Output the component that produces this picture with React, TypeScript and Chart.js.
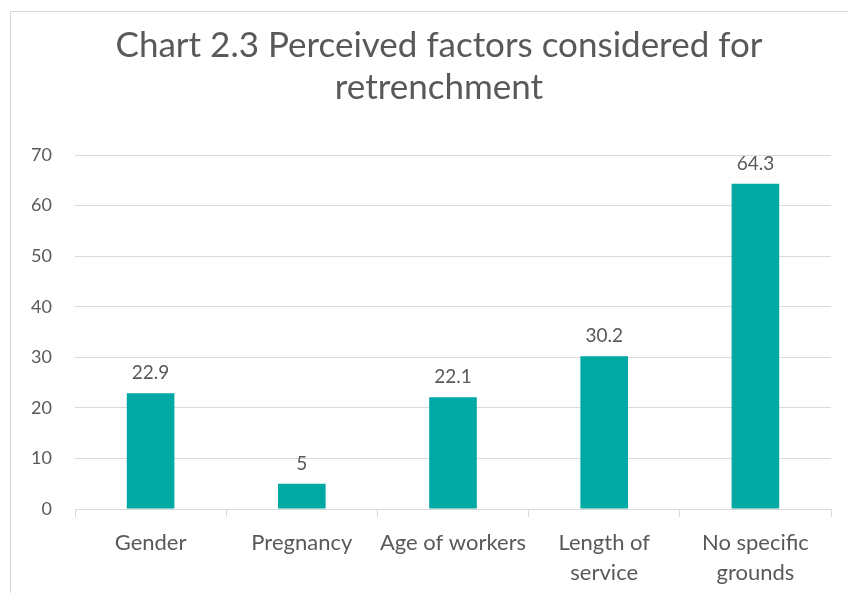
import React, { useEffect, useRef } from "react";
import { Chart, registerables } from "chart.js";

Chart.register(...registerables);

const categories: (string | string[])[] = [
  "Gender",
  "Pregnancy",
  "Age of workers",
  ["Length of", "service"],
  ["No specific", "grounds"],
];
const values: number[] = [22.9, 5, 22.1, 30.2, 64.3];
const valueLabels: string[] = ["22.9", "5", "22.1", "30.2", "64.3"];
const titleLines: string[] = ["Chart 2.3 Perceived factors considered for", "retrenchment"];

const FONT = "Lato, 'Open Sans', sans-serif";
const TEXT = "#595959";
const GRID = "#d9d9d9";
const BAR = "#00A9A4";

export default function App() {
  const ref = useRef<HTMLCanvasElement | null>(null);

  useEffect(() => {
    if (!ref.current) return;
    const decor = {
      id: "decor",
      beforeDraw(chart: any) {
        const ctx = chart.ctx;
        ctx.save();
        ctx.fillStyle = "#ffffff";
        ctx.fillRect(0, 0, chart.width, chart.height);
        ctx.strokeStyle = GRID;
        ctx.lineWidth = 1;
        ctx.strokeRect(10.5, 11.5, chart.width + 20, chart.height + 20);
        ctx.fillStyle = TEXT;
        ctx.textAlign = "center";
        ctx.textBaseline = "alphabetic";
        ctx.font = `35px ${FONT}`;
        ctx.fillText(titleLines[0], 439, 57);
        ctx.fillText(titleLines[1], 439, 99);
        ctx.restore();
      },
      afterDatasetsDraw(chart: any) {
        const ctx = chart.ctx;
        const meta = chart.getDatasetMeta(0);
        ctx.save();
        ctx.fillStyle = TEXT;
        ctx.textAlign = "center";
        ctx.textBaseline = "alphabetic";
        ctx.font = `19px ${FONT}`;
        meta.data.forEach((el: any, i: number) => {
          ctx.fillText(valueLabels[i], el.x, el.y - 14);
        });
        ctx.restore();
      },
    };

    const chart = new Chart(ref.current, {
      type: "bar",
      data: {
        labels: categories,
        datasets: [
          {
            data: values,
            backgroundColor: BAR,
            barPercentage: 0.315,
            categoryPercentage: 1,
          },
        ],
      },
      options: {
        responsive: false,
        animation: false,
        devicePixelRatio: 1,
        layout: { padding: { left: 10, right: 17, top: 155, bottom: 0 } },
        plugins: {
          legend: { display: false },
          tooltip: { enabled: false },
          title: { display: false },
        },
        scales: {
          x: {
            grid: {
              display: true,
              drawOnChartArea: false,
              drawTicks: true,
              tickLength: 8,
              color: GRID,
              offset: true,
            },
            border: { display: true, color: GRID },
            ticks: {
              color: TEXT,
              font: { family: FONT, size: 22, lineHeight: 1.36 },
              padding: 11,
              maxRotation: 0,
              autoSkip: false,
            },
            afterFit(scale: any) {
              scale.height = 84;
            },
          },
          y: {
            min: 0,
            max: 70,
            ticks: {
              stepSize: 10,
              color: TEXT,
              font: { family: FONT, size: 18 },
              padding: 23,
            },
            grid: { color: GRID, drawTicks: false, lineWidth: 1 },
            border: { display: false },
            afterFit(scale: any) {
              scale.width = 65;
            },
          },
        },
      },
      plugins: [decor],
    });
    return () => chart.destroy();
  }, []);

  return (
    <div style={{ position: "absolute", left: 0, top: 0, width: 848, height: 593 }}>
      <canvas ref={ref} width={848} height={593} />
    </div>
  );
}
